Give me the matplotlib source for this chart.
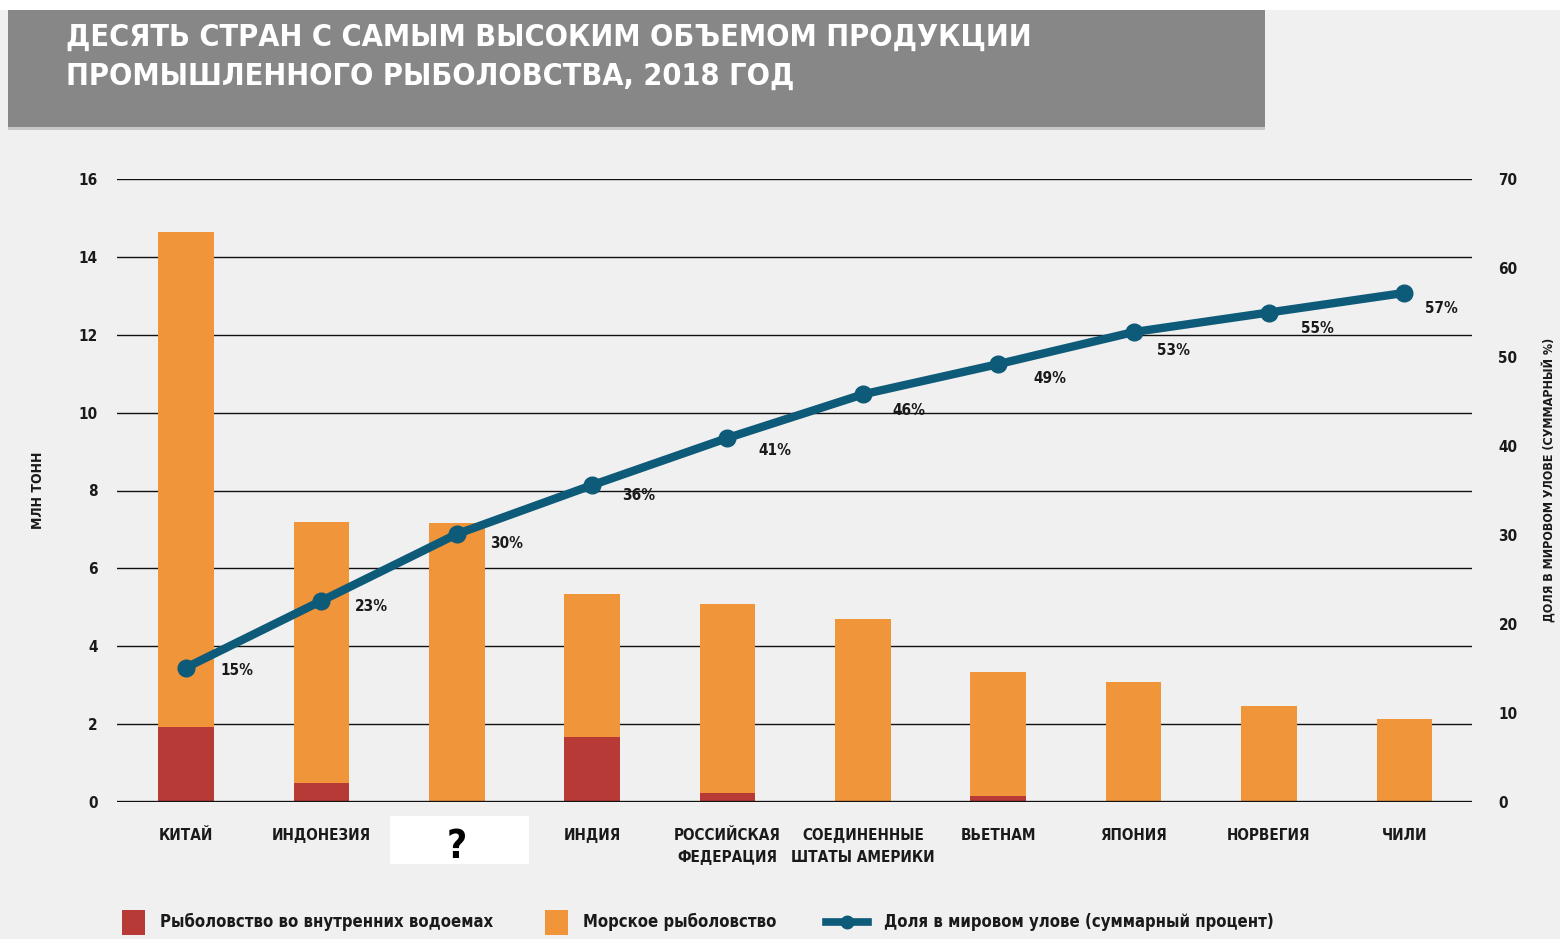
import matplotlib
matplotlib.use("Agg")
import matplotlib.pyplot as plt
from matplotlib import font_manager
from matplotlib.patches import Rectangle
from matplotlib.lines import Line2D
from matplotlib.transforms import blended_transform_factory

# ---------------- data ----------------
countries = ["КИТАЙ", "ИНДОНЕЗИЯ", "?", "ИНДИЯ", "РОССИЙСКАЯ\nФЕДЕРАЦИЯ",
             "СОЕДИНЕННЫЕ\nШТАТЫ АМЕРИКИ", "ВЬЕТНАМ", "ЯПОНИЯ", "НОРВЕГИЯ", "ЧИЛИ"]
inland = [1.93, 0.49, 0.0, 1.67, 0.23, 0.02, 0.15, 0.0, 0.0, 0.0]
total = [14.64, 7.19, 7.16, 5.34, 5.08, 4.70, 3.34, 3.08, 2.47, 2.13]
marine = [t - i for t, i in zip(total, inland)]
cum_share = [15.1, 22.6, 30.1, 35.6, 40.9, 45.8, 49.2, 52.8, 55.0, 57.2]
share_labels = ["15%", "23%", "30%", "36%", "41%", "46%", "49%", "53%", "55%", "57%"]
left_ticks = [0, 2, 4, 6, 8, 10, 12, 14, 16]
right_ticks = [0, 10, 20, 30, 40, 50, 60, 70]

title = "ДЕСЯТЬ СТРАН С САМЫМ ВЫСОКИМ ОБЪЕМОМ ПРОДУКЦИИ\nПРОМЫШЛЕННОГО РЫБОЛОВСТВА, 2018 ГОД"
left_label = "МЛН ТОНН"
right_label = "ДОЛЯ В МИРОВОМ УЛОВЕ (СУММАРНЫЙ %)"
legend_labels = ["Рыболовство во внутренних водоемах", "Морское рыболовство",
                 "Доля в мировом улове (суммарный процент)"]

# ---------------- style ----------------
C_RED = "#b83a36"
C_ORANGE = "#f0953a"
C_LINE = "#0d5a79"
C_BG = "#f0f0f0"
C_TXT = "#1a1a1a"

names = {f.name for f in font_manager.fontManager.ttflist}
if "Liberation Sans Narrow" in names:
    FONT = dict(family="Liberation Sans Narrow")
else:
    FONT = dict(family="DejaVu Sans", stretch="condensed")

W, H = 1560, 939
fig = plt.figure(figsize=(W / 100, H / 100), dpi=100, facecolor=C_BG)


def fx(px):
    return px / W


def fy(py):
    return 1 - py / H


# white strip on top and title band
fig.patches.append(Rectangle((0, fy(10)), 1, 1 - fy(10), transform=fig.transFigure,
                             facecolor="white", edgecolor="none", zorder=-2))
fig.patches.append(Rectangle((fx(8), fy(130)), fx(1265 - 8), fy(10) - fy(130),
                             transform=fig.transFigure, facecolor="#c8c8c8",
                             edgecolor="none", zorder=-2))
fig.patches.append(Rectangle((fx(8), fy(127)), fx(1265 - 8), fy(10) - fy(127),
                             transform=fig.transFigure, facecolor="#878787",
                             edgecolor="none", zorder=-2))
fig.text(fx(66), fy(57), title, color="white", fontsize=22, fontweight="bold",
         ha="left", va="center", linespacing=1.45, **FONT)

ax = fig.add_axes([fx(117), fy(802), fx(1472 - 117), fy(179) - fy(802)])
ax.set_facecolor("none")
x = list(range(len(countries)))
ax.bar(x, inland, width=0.41, color=C_RED, zorder=2)
ax.bar(x, marine, width=0.41, bottom=inland, color=C_ORANGE, zorder=2)
ax.set_xlim(-0.51, 9.5)
ax.set_ylim(0, 16)
ax.set_yticks(left_ticks)
ax.set_yticklabels([str(t) for t in left_ticks], fontsize=11, fontweight="bold",
                   color=C_TXT, **FONT)
for t in left_ticks:
    ax.axhline(t, color="#111111", lw=2.4 if t == 0 else 1.0, zorder=1 if t else 3)
ax.tick_params(axis="y", length=0, pad=14)
ax.set_xticks(x)
ax.set_xticklabels(countries, fontsize=11, fontweight="bold", color=C_TXT,
                   linespacing=1.55, va="top", **FONT)
ax.tick_params(axis="x", length=0, pad=19)
for lab in ax.get_xticklabels():
    if lab.get_text() == "?":
        lab.set_fontsize(28)
        lab.set_family("DejaVu Sans")
        lab.set_fontweight("bold")
        lab.set_color("black")
qi = countries.index("?")
trans = blended_transform_factory(ax.transData, fig.transFigure)
fig.patches.append(Rectangle((qi - 0.49, fy(864)), 1.02, fy(816) - fy(864),
                             transform=trans, facecolor="white", edgecolor="none",
                             zorder=-1))
for s in ax.spines.values():
    s.set_visible(False)
ax.set_ylabel(left_label, fontsize=10, fontweight="bold", color=C_TXT,
              labelpad=24, **FONT)

ax2 = ax.twinx()
ax2.set_ylim(0, 70)
ax2.set_yticks(right_ticks)
ax2.set_yticklabels([str(t) for t in right_ticks], fontsize=11, fontweight="bold",
                    color=C_TXT, **FONT)
ax2.tick_params(axis="y", length=0, pad=19)
for s in ax2.spines.values():
    s.set_visible(False)
ax2.plot(x, cum_share, color=C_LINE, lw=6, marker="o", ms=12, zorder=5,
         solid_capstyle="round")
offsets = [(34, -3), (33, -6), (33, -9), (30, -10), (31, -13),
           (30, -16), (35, -14), (23, -18), (32, -16), (21, -16)]
for xi, v, lab, off in zip(x, cum_share, share_labels, offsets):
    ax2.annotate(lab, (xi, v), xytext=off, textcoords="offset pixels",
                 fontsize=11, fontweight="bold", color=C_TXT, ha="left",
                 va="center", zorder=6, **FONT)

fig.text(fx(1549), fy(480), right_label, rotation=90,
         fontsize=9, fontweight="bold", color=C_TXT, ha="center", va="center", **FONT)

# legend
ly = fy(922)
fig.patches.append(Rectangle((fx(122), fy(935)), fx(23), fy(910) - fy(935),
                             transform=fig.transFigure, facecolor=C_RED, edgecolor="none"))
fig.text(fx(160), ly, legend_labels[0], fontsize=12, fontweight="bold", color=C_TXT,
         ha="left", va="center", **FONT)
fig.patches.append(Rectangle((fx(545), fy(935)), fx(23), fy(910) - fy(935),
                             transform=fig.transFigure, facecolor=C_ORANGE, edgecolor="none"))
fig.text(fx(583), ly, legend_labels[1], fontsize=12, fontweight="bold", color=C_TXT,
         ha="left", va="center", **FONT)
fig.lines.append(Line2D([fx(826), fx(868)], [ly, ly], transform=fig.transFigure,
                        color=C_LINE, lw=5.5))
fig.lines.append(Line2D([fx(847)], [ly], transform=fig.transFigure, color=C_LINE,
                        marker="o", ms=9))
fig.text(fx(884), ly, legend_labels[2], fontsize=12, fontweight="bold", color=C_TXT,
         ha="left", va="center", **FONT)

fig.savefig("out.png", dpi=100, facecolor=fig.get_facecolor())
